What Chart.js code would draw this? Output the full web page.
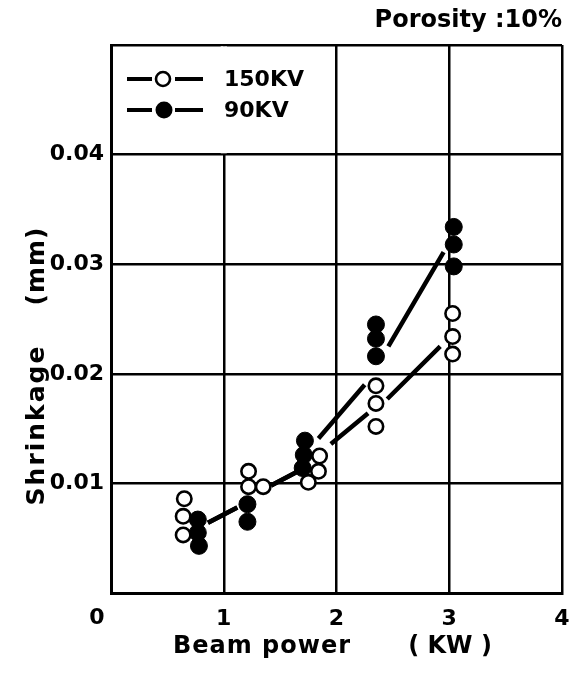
<!DOCTYPE html>
<html><head><meta charset="utf-8">
<script src="https://cdn.jsdelivr.net/npm/chart.js@4.4.1/dist/chart.umd.min.js"></script>
<style>html,body{margin:0;padding:0;background:#fff}#wrap{width:576px;height:675px}</style>
</head><body><div id="wrap"><canvas id="c" width="576" height="675"></canvas></div>
<script>
// ---- text ----
const chartTitle = 'Porosity :10%';
const seriesNames = ['150KV', '90KV'];
const xTitleParts = ['Beam power', '( KW )'];
const yTitleParts = ['Shrinkage', '(mm)'];
const xTickLabels = ['0', '1', '2', '3', '4'];
const yTickLabels = ['', '0.01', '0.02', '0.03', '0.04', ''];

// ---- measured points ----
const kv150X = [0.65, 0.64, 0.64, 1.22, 1.22, 1.35, 1.85, 1.84, 1.75, 2.35, 2.35, 2.35, 3.03, 3.03, 3.03];
const kv150Y = [0.0086, 0.0070, 0.0053, 0.0111, 0.0097, 0.0097, 0.0125, 0.0111, 0.0101, 0.0189, 0.0173, 0.0152, 0.0255, 0.0234, 0.0218];
const kv90X = [0.77, 0.77, 0.78, 1.21, 1.21, 1.72, 1.71, 1.70, 2.35, 2.35, 2.35, 3.04, 3.04, 3.04];
const kv90Y = [0.0067, 0.0055, 0.0043, 0.0081, 0.0065, 0.0139, 0.0126, 0.0114, 0.0245, 0.0232, 0.0216, 0.0334, 0.0318, 0.0298];

// ---- drawn trend segments (null = gap) ----
const fit150X = [0.86, 1.12, null, 1.42, 1.66, null, 1.95, 2.28, null, 2.45, 2.92];
const fit150Y = [0.0064, 0.0078, null, 0.0098, 0.0111, null, 0.0136, 0.0164, null, 0.0177, 0.0225];
const fit90X = [0.86, 1.12, null, 1.42, 1.66, null, 1.84, 2.25, null, 2.46, 2.95];
const fit90Y = [0.0064, 0.0078, null, 0.0098, 0.0111, null, 0.0141, 0.0190, null, 0.0225, 0.0311];

const toPts = (xs, ys) => xs.map((x, i) => ({ x: x, y: ys[i] }));
const toLine = (xs, ys) => xs.map((x, i) => x === null ? { x: xs[i - 1], y: null } : { x: x, y: ys[i] });

const FONT = "'DejaVu Sans', sans-serif";
Chart.defaults.font.family = FONT;
Chart.defaults.font.weight = 'bold';
Chart.defaults.color = '#000';

const decor = {
  id: 'decor',
  beforeDraw(chart) {
    const ctx = chart.ctx;
    ctx.save(); ctx.fillStyle = '#fff'; ctx.fillRect(0, 0, chart.width, chart.height); ctx.restore();
  },
  beforeDatasetsDraw(chart) {
    const { ctx, chartArea: a, scales: { x, y } } = chart;
    ctx.save(); ctx.fillStyle = '#fff';
    const gx = x.getPixelForValue(1);
    const top = a.top + 1.3;
    ctx.fillRect(gx - 3, top, 6, y.getPixelForValue(0.04) - 1.3 - top);
    ctx.restore();
  },
  afterDraw(chart) {
    const { ctx, chartArea: a } = chart;
    ctx.save();
    ctx.fillStyle = '#000'; ctx.strokeStyle = '#000';
    // legend
    for (let i = 0; i < seriesNames.length; i++) {
      const cy = a.top + 34 + i * 31;
      ctx.lineWidth = 4;
      ctx.beginPath();
      ctx.moveTo(a.left + 16, cy); ctx.lineTo(a.left + 41, cy);
      ctx.moveTo(a.left + 64, cy); ctx.lineTo(a.left + 92, cy);
      ctx.stroke();
      ctx.beginPath();
      if (i === 0) {
        ctx.arc(a.left + 52, cy, 7, 0, Math.PI * 2);
        ctx.fillStyle = '#fff'; ctx.fill();
        ctx.lineWidth = 2.6; ctx.stroke();
        ctx.fillStyle = '#000';
      } else {
        ctx.arc(a.left + 53, cy, 8.5, 0, Math.PI * 2);
        ctx.fill();
      }
      ctx.font = 'bold 22px ' + FONT;
      ctx.textAlign = 'left'; ctx.textBaseline = 'middle';
      ctx.fillText(seriesNames[i], a.left + 113, cy + 1);
    }
    // axis titles
    ctx.font = 'bold 24px ' + FONT;
    ctx.textAlign = 'center'; ctx.textBaseline = 'middle';
    ctx.letterSpacing = '1px';
    ctx.fillText(xTitleParts[0], a.left + 151, a.bottom + 54);
    ctx.letterSpacing = '0px';
    ctx.fillText(xTitleParts[1], a.left + 339, a.bottom + 54);
    ctx.save();
    ctx.translate(37, 0);
    ctx.rotate(-Math.PI / 2);
    ctx.font = 'bold 25px ' + FONT;
    ctx.letterSpacing = '2px';
    ctx.fillText(yTitleParts[0], -425, 0);
    ctx.letterSpacing = '1px';
    ctx.fillText(yTitleParts[1], -266, 0);
    ctx.restore();
    // origin label
    ctx.letterSpacing = '0px';
    ctx.font = 'bold 22px ' + FONT;
    ctx.fillText(xTickLabels[0], a.left - 14, a.bottom + 25);
    ctx.restore();
  }
};

new Chart(document.getElementById('c'), {
  type: 'scatter',
  data: {
    datasets: [
      { label: 'fit150', data: toLine(fit150X, fit150Y), showLine: true, spanGaps: false,
        borderColor: '#000', borderWidth: 4.5, pointRadius: 0, order: 3 },
      { label: 'fit90', data: toLine(fit90X, fit90Y), showLine: true, spanGaps: false,
        borderColor: '#000', borderWidth: 4.5, pointRadius: 0, order: 3 },
      { label: seriesNames[1], data: toPts(kv90X, kv90Y), pointRadius: 8.5, pointBorderWidth: 1,
        pointBackgroundColor: '#000', pointBorderColor: '#000', order: 2 },
      { label: seriesNames[0], data: toPts(kv150X, kv150Y), pointRadius: 7.2, pointBorderWidth: 2.6,
        pointBackgroundColor: '#fff', pointBorderColor: '#000', order: 1 }
    ]
  },
  options: {
    responsive: false,
    animation: false,
    events: [],
    layout: { padding: { left: 0, right: 14, top: 0, bottom: 0 } },
    plugins: {
      legend: { display: false },
      tooltip: { enabled: false },
      title: { display: true, text: chartTitle, align: 'end', color: '#000',
        font: { size: 24, weight: 'bold', family: FONT, lineHeight: 1.2 },
        padding: { top: 6, bottom: 10.2 } }
    },
    scales: {
      x: {
        type: 'linear', min: 0, max: 4,
        afterFit: s => { s.height = 82; s.paddingLeft = 0; s.paddingRight = 0; },
        ticks: { stepSize: 1, padding: 13, font: { size: 22, weight: 'bold' }, maxRotation: 0,
          callback: (v, i) => (i === 0 ? '' : xTickLabels[i]) },
        grid: { color: '#000', lineWidth: 2.5, drawTicks: false },
        border: { color: '#000', width: 3 }
      },
      y: {
        type: 'linear', min: 0, max: 0.05,
        afterFit: s => { s.width = 111; s.paddingTop = 0; s.paddingBottom = 0; },
        ticks: { stepSize: 0.01, padding: 7, font: { size: 22, weight: 'bold' },
          callback: (v, i) => yTickLabels[i] },
        grid: { color: '#000', lineWidth: 2.5, drawTicks: false },
        border: { color: '#000', width: 3 }
      }
    }
  },
  plugins: [decor]
});
</script></body></html>
